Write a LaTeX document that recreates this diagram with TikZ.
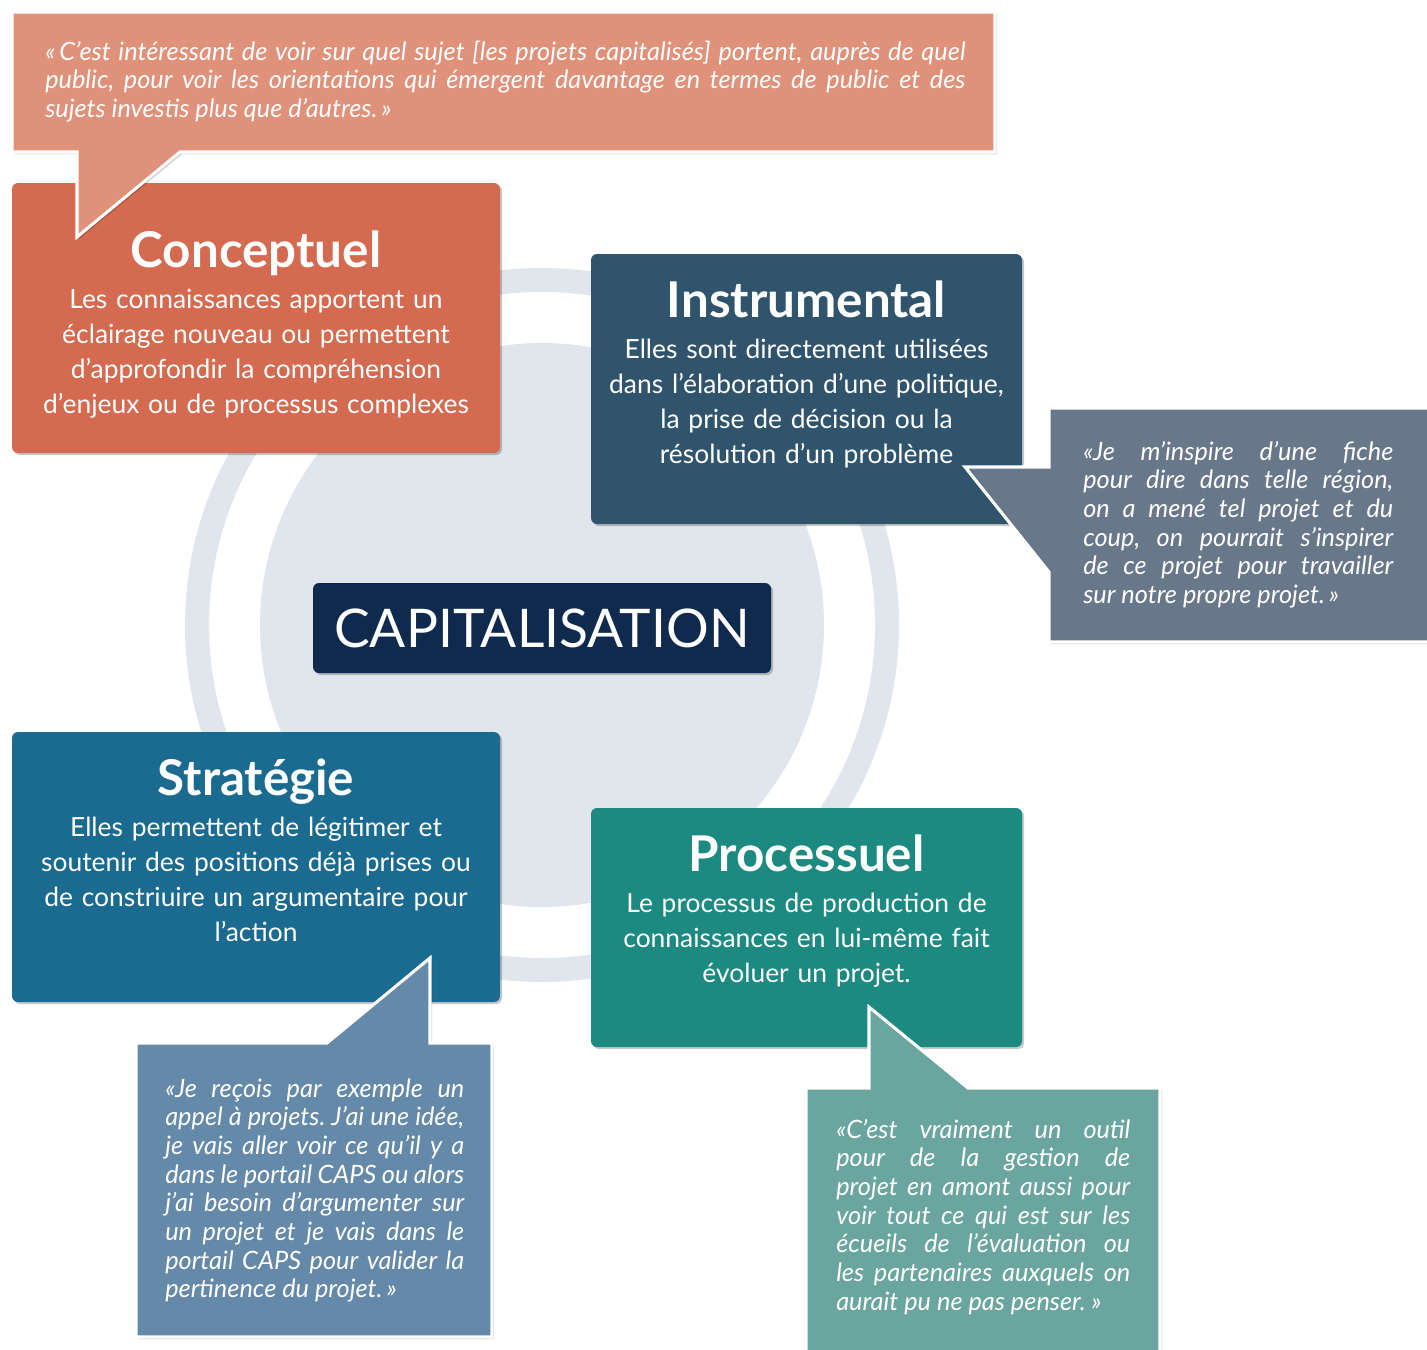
\documentclass[tikz,border=0pt]{standalone}
\usepackage{fontspec}
\setmainfont{Lato}
\usepackage{tikz}
\usetikzlibrary{shadows,positioning}
\definecolor{ringgray}{HTML}{E1E6ED}
\definecolor{conceptC}{HTML}{D46A50}
\definecolor{conceptQ}{HTML}{E0917A}
\definecolor{instruC}{HTML}{30546C}
\definecolor{instruQ}{HTML}{687789}
\definecolor{stratC}{HTML}{1B6A90}
\definecolor{stratQ}{HTML}{6589A9}
\definecolor{processC}{HTML}{1C8A80}
\definecolor{processQ}{HTML}{6AA59F}
\definecolor{capitalC}{HTML}{0F2A4D}
\newcommand{\pxu}{0.75pt}
\hyphenpenalty=10000
\exhyphenpenalty=10000
\tolerance=9999
\frenchspacing
\tikzset{
  softshadow/.style={drop shadow={shadow xshift=1.5pt,shadow yshift=-1.5pt,opacity=.22,fill=black}},
  card/.style={rounded corners=4.5pt,inner sep=0pt,softshadow},
  cardtitle/.style={text=white,anchor=base,inner sep=0pt,font=\fontsize{37}{42}\selectfont\bfseries},
  cardtext/.style={text=white,anchor=base,inner sep=0pt,align=center,text width=470*\pxu,font=\fontsize{19.8}{26.25}\selectfont},
  bubble/.style={draw=white,line width=2.3pt,softshadow},
  quote/.style={text=white,anchor=base west,inner sep=0pt,align=justify,font=\fontsize{19}{21.5}\selectfont\itshape},
}

\begin{document}
\begin{tikzpicture}[x=\pxu,y=-\pxu]
\useasboundingbox (0,0) rectangle (1427,1349);
% background rings
\fill[ringgray] (542,625) circle (282);
\draw[ringgray,line width=24*\pxu] (542,625) circle (345);

% the four cards and the centre
\node[card,fill=conceptC,minimum width=488*\pxu,minimum height=270*\pxu] (concept) at (256,318) {};
\node[card,fill=instruC,minimum width=431*\pxu,minimum height=270*\pxu] (instru) at (806.5,389) {};
\node[card,fill=stratC,minimum width=488*\pxu,minimum height=270*\pxu] (strat) at (256,867) {};
\node[card,fill=processC,minimum width=431*\pxu,minimum height=239*\pxu] (process) at (806.5,927.5) {};
\node[card,fill=capitalC,minimum width=458*\pxu,minimum height=90*\pxu] (capital) at (542,628) {};
\node[text=white,anchor=base,inner sep=0pt,font=\fontsize{40}{48}\selectfont] (capitalT) at (542,647) {CAPITALISATION};

\node[cardtitle] (conceptT) at (256,267) {Conceptuel};
\node[cardtext] (conceptB) at (256,308) {Les connaissances apportent un\\ éclairage nouveau ou permettent\\ d’approfondir la compréhension\\ d’enjeux ou de processus complexes};
\node[cardtitle] (instruT) at (806.5,317) {Instrumental};
\node[cardtext] (instruB) at (806.5,358) {Elles sont directement utilisées\\ dans l’élaboration d’une politique,\\ la prise de décision ou la\\ résolution d’un problème};
\node[cardtitle] (stratT) at (256,795) {Stratégie};
\node[cardtext] (stratB) at (256,836) {Elles permettent de légitimer et\\ soutenir des positions déjà prises ou\\ de constriuire un argumentaire pour\\ l’action};
\node[cardtitle] (processT) at (806.5,871) {Processuel};
\node[cardtext] (processB) at (806.5,912) {Le processus de production de\\ connaissances en lui-même fait\\ évoluer un projet.};

% speech bubbles
\path[bubble,fill=conceptQ] (12,12) -- (995,12) -- (995,152) -- (180,152) -- (77,237) -- (77,152) -- (12,152) -- cycle;
\node[quote,text width=920*\pxu] (conceptQuote) at (45,60) {«\,C’est intéressant de voir sur quel sujet [les projets capitalisés] portent, auprès de quel\linebreak public, pour voir les orientations qui émergent davantage en termes de public et des\linebreak sujets investis plus que d’autres.\,»};

\path[bubble,fill=instruQ] (1049,408) -- (1440,408) -- (1440,642) -- (1049,642) -- (1049,572) -- (965,467) -- (1049,467) -- cycle;
\node[quote,text width=310*\pxu] (instruQuote) at (1083,460) {«Je m’inspire d’une fiche\linebreak pour dire dans telle région,\linebreak on a mené tel projet et du\linebreak coup, on pourrait s’inspirer\linebreak de ce projet pour travailler\linebreak sur notre propre projet.\,»};

\path[bubble,fill=stratQ] (136,1043) -- (327,1043) -- (430,958) -- (430,1043) -- (492,1043) -- (492,1337) -- (136,1337) -- cycle;
\node[quote,text width=299*\pxu] (stratQuote) at (165,1097) {«Je reçois par exemple un\linebreak appel à projets. J’ai une idée,\linebreak je vais aller voir ce qu’il y a\linebreak dans le portail CAPS ou alors\linebreak j’ai besoin d’argumenter sur\linebreak un projet et je vais dans le\linebreak portail CAPS pour valider la\linebreak pertinence du projet.\,»};

\path[bubble,fill=processQ] (806,1088) -- (869,1088) -- (869,1007) -- (968,1088) -- (1160,1088) -- (1160,1360) -- (806,1360) -- cycle;
\node[quote,text width=294*\pxu] (processQuote) at (836,1138) {«C’est vraiment un outil\linebreak pour de la gestion de\linebreak projet en amont aussi pour\linebreak voir tout ce qui est sur les\linebreak écueils de l’évaluation ou\linebreak les partenaires auxquels on\linebreak aurait pu ne pas penser. »};
\end{tikzpicture}
\end{document}
